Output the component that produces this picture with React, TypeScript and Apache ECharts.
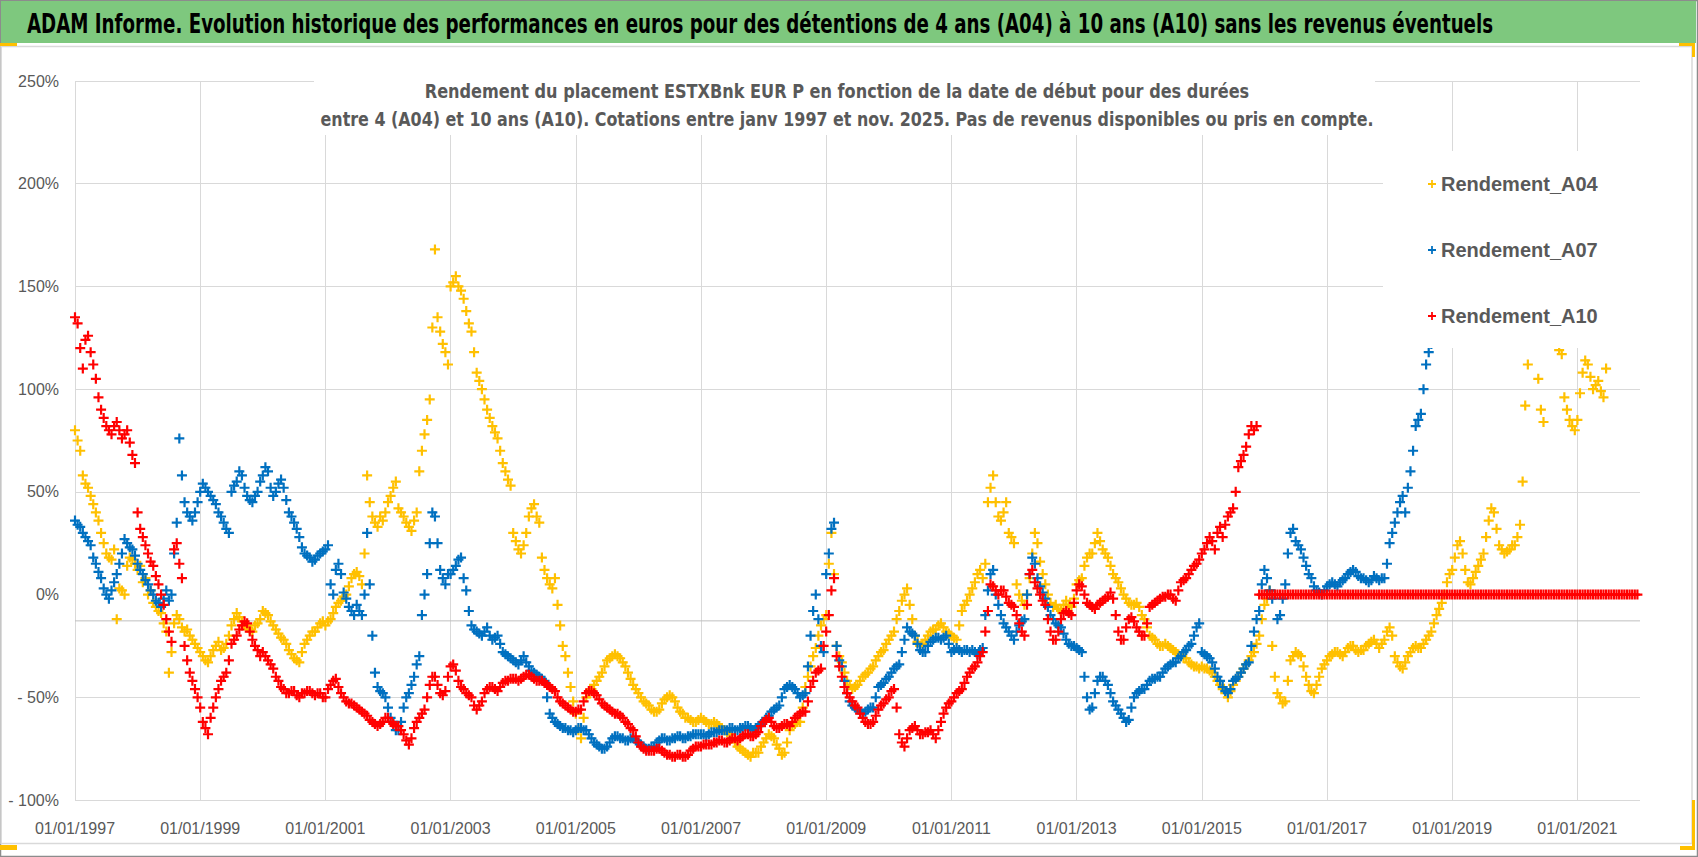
import React, { useEffect, useRef } from "react";
import * as echarts from "echarts";

// ---------- axis settings ----------
const START_YEAR = 1997;
const X_MAX = 25; // years after 01/01/1997 -> 01/01/2022
const X_INTERVAL = 2;
const Y_MIN = -100;
const Y_MAX = 250;
const Y_INTERVAL = 50;
const AXIS_CROSS = -12.8; // horizontal axis line position (%)

// ---------- texts ----------
const MAIN_TITLE =
  "ADAM Informe. Evolution historique des performances en euros pour des détentions de 4 ans (A04) à 10 ans (A10) sans les revenus éventuels";
const SUBTITLE_1 =
  "Rendement du placement ESTXBnk EUR P en fonction de la date de début pour des durées";
const SUBTITLE_2 =
  "entre 4 (A04) et 10 ans (A10). Cotations entre janv 1997 et nov. 2025. Pas de revenus disponibles ou pris en compte.";

const SERIES_NAMES = ["Rendement_A04", "Rendement_A07", "Rendement_A10"];
const SERIES_COLORS = ["#FFC000", "#0070C0", "#FF0000"];

// ---------- values (%) read at the start of each month, first = January 1997 ----------
const rendementA04 = [
  80, 70, 54, 48, 40, 30, 20, 17, -12, 2, 14, 17, // 1997
  12, 6, 0, -4, -8, -14, -38, -14, -12, -18, -20, -24, // 1998
  -28, -32, -30, -25, -27, -24, -15, -9, -13, -16, -18, -14, // 1999
  -8, -10, -15, -19, -22, -27, -31, -33, -24, -20, -18, -14, // 2000
  -15, -12, -6, -3, 0, 8, 11, 5, 58, 38, 33, 36, // 2001
  45, 52, 42, 38, 33, 36, 60, 78, 95, 168, 128, 118, // 2002
  150, 155, 148, 138, 128, 108, 100, 90, 82, 76, 64, 56, // 2003
  30, 22, 24, 38, 44, 35, 12, 5, 8, -15, -30, -45, // 2004
  -58, -70, -50, -46, -42, -38, -32, -30, -30, -33, -38, -44, // 2005
  -48, -52, -54, -57, -56, -51, -49, -52, -57, -60, -61, -62, // 2006
  -60, -62, -63, -63, -65, -67, -70, -74, -76, -78, -77, -77, // 2007
  -72, -68, -70, -75, -77, -66, -63, -62, -45, -35, -26, -15, // 2008
  -10, 30, -25, -33, -42, -46, -44, -40, -38, -35, -30, -27, // 2009
  -22, -18, -8, 0, -5, -20, -25, -22, -18, -17, -14, -18, // 2010
  -20, -22, -8, -3, 3, 10, 8, 45, 58, 38, 40, 30, // 2011
  25, 0, -5, 8, 30, 16, 5, -4, -5, -8, -3, -6, // 2012
  5, 8, 18, 20, 30, 22, 18, 10, 6, 0, -4, -5, // 2013
  -6, -12, -20, -22, -25, -24, -26, -28, -30, -31, -34, -35, // 2014
  -35, -36, -38, -42, -46, -50, -44, -40, -36, -32, -28, -20, // 2015
  -5, 2, -40, -50, -52, -32, -28, -30, -40, -47, -44, -36, // 2016
  -32, -29, -28, -30, -26, -25, -28, -27, -24, -22, -26, -22, // 2017
  -16, -30, -35, -33, -28, -25, -26, -22, -18, -10, -4, 6, // 2018
  12, 24, 20, 6, 8, 14, 20, 36, 40, 24, 20, 22, // 2019
  24, 34, 92, 125, 130, 90, 128, 135, 125, 117, 90, 82, // 2020
  85, 108, 112, 100, 104, 96, 125, 135, 130, 140, 125, // 2021 (to Nov)
];
// values read at mid-month
const rendementA04Mid = [
  75, 58, 52, 44, 36, 25, 18, 22, 3, 0, 18, 15, // 1997
  14, 8, 2, -6, -9, -18, -28, -10, -16, -17, -22, -26, // 1998
  -30, -33, -27, -23, -26, -20, -12, -11, -15, -17, -15, -12, // 1999
  -9, -13, -17, -21, -24, -29, -32, -28, -22, -18, -16, -13, // 2000
  -13, -9, -4, -1, 4, 10, 9, 20, 45, 35, 38, 40, // 2001
  48, 55, 40, 35, 31, 40, 70, 85, 130, 135, 122, 112, // 2002
  152, 150, 144, 132, 118, 104, 95, 86, 79, 70, 60, 53, // 2003
  26, 20, 30, 42, 38, 18, 8, 3, -5, -25, -38, -52, // 2004
  -66, -60, -48, -44, -40, -35, -31, -29, -31, -35, -41, -46, // 2005
  -50, -53, -56, -57, -53, -50, -50, -55, -58, -60, -62, -61, // 2006
  -61, -63, -62, -64, -66, -68, -72, -75, -77, -79, -77, -74, // 2007
  -70, -69, -73, -78, -72, -64, -62, -55, -40, -30, -20, -12, // 2008
  15, 10, -30, -38, -44, -45, -42, -39, -36, -32, -28, -24, // 2009
  -20, -12, -3, 3, -12, -23, -24, -20, -17, -15, -16, -19, // 2010
  -21, -15, -5, 0, 6, 12, 15, 52, 45, 36, 45, 28, // 2011
  5, -3, 0, 20, 25, 10, 0, -6, -7, -5, -5, -2, // 2012
  7, 14, 20, 25, 26, 20, 14, 8, 3, -2, -5, -4, // 2013
  -10, -16, -21, -24, -25, -25, -27, -29, -31, -33, -35, -36, // 2014
  -36, -37, -40, -44, -48, -47, -42, -38, -34, -30, -24, -12, // 2015
  -2, -25, -48, -53, -42, -30, -29, -35, -44, -48, -40, -34, // 2016
  -30, -28, -29, -28, -25, -27, -27, -25, -23, -24, -24, -18, // 2017
  -20, -33, -36, -30, -26, -26, -24, -20, -14, -7, 0, 10, // 2018
  18, 26, 12, 5, 11, 17, 28, 42, 32, 22, 21, 24, // 2019
  28, 55, 112, 128, 105, 84, 132, 128, 119, 96, 85, 80, // 2020
  98, 114, 106, 102, 99, 110, 130, 138, 135, 132, 128, // 2021 (to Nov)
];

const rendementA07 = [
  36, 33, 28, 24, 15, 8, 0, 2, 10, 20, 25, 22, // 1997
  15, 10, 5, 0, -4, -2, -3, 20, 76, 45, 38, 40, // 1998
  50, 52, 48, 44, 38, 32, 50, 55, 58, 48, 45, 50, // 1999
  58, 60, 48, 54, 52, 40, 35, 28, 20, 18, 17, 20, // 2000
  22, 5, 12, 10, -2, -8, -5, -10, 30, -20, -45, -48, // 2001
  -55, -62, -66, -55, -48, -40, -30, 0, 25, 38, 12, 5, // 2002
  10, 14, 18, 2, -15, -18, -20, -16, -22, -20, -28, -30, // 2003
  -32, -34, -30, -35, -38, -40, -42, -58, -62, -64, -65, -66, // 2004
  -66, -65, -66, -70, -73, -75, -74, -70, -69, -70, -71, -70, // 2005
  -72, -74, -75, -74, -71, -70, -71, -70, -69, -70, -69, -68, // 2006
  -68, -69, -67, -67, -66, -66, -65, -66, -65, -64, -66, -64, // 2007
  -62, -59, -56, -54, -46, -44, -46, -50, -48, -20, 0, -25, // 2008
  10, 32, -25, -35, -48, -54, -56, -58, -56, -55, -45, -43, // 2009
  -40, -36, -34, -22, -18, -20, -27, -28, -23, -21, -22, -20, // 2010
  -28, -26, -28, -27, -27, -29, -26, 2, 12, -5, -14, -18, // 2011
  -22, -15, -12, 10, 15, 4, -2, -10, -14, -16, -22, -25, // 2012
  -26, -28, -50, -55, -42, -40, -44, -52, -56, -60, -61, -50, // 2013
  -47, -46, -42, -41, -40, -36, -34, -33, -30, -27, -24, -16, // 2014
  -28, -30, -33, -40, -45, -48, -42, -40, -36, -33, -18, -8, // 2015
  12, 2, 0, -10, 5, 30, 26, 22, 14, 8, 2, 0, // 2016
  4, 6, 4, 7, 10, 12, 9, 8, 6, 9, 7, 8, // 2017
  25, 35, 45, 40, 60, 82, 88, 112, 122, 128, // 2018 (to Oct)
];
const rendementA07Mid = [
  34, 30, 26, 18, 11, 3, -2, 6, 15, 27, 23, 19, // 1997
  12, 7, 2, -3, -6, 2, 0, 35, 58, 40, 36, 45, // 1998
  54, 50, 46, 40, 35, 30, 53, 60, 52, 46, 48, 55, // 1999
  62, 52, 50, 56, 46, 38, 32, 23, 19, 16, 19, 21, // 2000
  24, 0, 15, 1, -6, -10, -8, 0, 5, -38, -47, -50, // 2001
  -60, -66, -62, -50, -44, -34, -10, 10, 40, 25, 8, 10, // 2002
  12, 17, 8, -8, -17, -19, -18, -20, -21, -24, -29, -31, // 2003
  -33, -32, -33, -37, -39, -41, -50, -60, -63, -65, -66, -67, // 2004
  -65, -66, -68, -72, -74, -75, -72, -69, -70, -71, -70, -71, // 2005
  -73, -75, -74, -72, -70, -71, -70, -69, -70, -69, -68, -68, // 2006
  -68, -68, -67, -66, -66, -65, -66, -65, -64, -65, -65, -63, // 2007
  -60, -57, -55, -50, -45, -45, -48, -49, -35, -8, -12, -28, // 2008
  20, 35, -32, -42, -52, -55, -57, -57, -55, -50, -44, -41, // 2009
  -38, -35, -28, -16, -19, -24, -28, -25, -22, -21, -21, -24, // 2010
  -27, -27, -27, -28, -28, -27, -10, 10, 0, -10, -16, -20, // 2011
  -18, -13, 0, 18, 8, 1, -6, -12, -15, -19, -24, -25, // 2012
  -27, -40, -56, -48, -40, -42, -48, -54, -58, -62, -55, -48, // 2013
  -46, -44, -41, -40, -38, -35, -33, -31, -28, -25, -20, -14, // 2014
  -29, -31, -36, -42, -47, -46, -41, -38, -34, -25, -12, 5, // 2015
  8, -2, -12, -2, 20, 32, 24, 18, 10, 4, 1, 2, // 2016
  5, 5, 6, 8, 11, 11, 8, 7, 7, 8, 8, 15, // 2017
  30, 40, 48, 52, 70, 85, 100, 118, 125, 130, // 2018 (to Oct)
];

const rendementA10 = [
  135, 120, 124, 118, 105, 90, 82, 78, 84, 76, 80, 68, // 1997
  40, 28, 20, 14, 5, -5, -18, 22, 15, -25, -38, -46, // 1998
  -55, -65, -60, -50, -42, -38, -24, -20, -15, -14, -22, -27, // 1999
  -28, -32, -36, -42, -46, -48, -47, -50, -48, -47, -49, -48, // 2000
  -50, -44, -41, -48, -52, -53, -55, -57, -59, -62, -64, -62, // 2001
  -60, -63, -64, -68, -73, -65, -60, -56, -44, -40, -48, -47, // 2002
  -35, -37, -45, -48, -50, -56, -52, -46, -45, -47, -43, -42, // 2003
  -41, -42, -40, -39, -41, -42, -43, -45, -47, -52, -54, -56, // 2004
  -57, -56, -48, -47, -49, -53, -55, -57, -58, -60, -63, -66, // 2005
  -72, -75, -76, -76, -75, -77, -78, -79, -78, -79, -76, -74, // 2006
  -74, -73, -73, -72, -71, -72, -70, -71, -69, -68, -69, -67, // 2007
  -62, -60, -64, -65, -63, -64, -60, -58, -57, -45, -38, -36, // 2008
  -18, 2, -30, -40, -48, -52, -55, -60, -63, -62, -56, -53, // 2009
  -50, -46, -68, -74, -66, -64, -68, -67, -66, -70, -62, -55, // 2010
  -52, -48, -46, -40, -36, -33, -28, -8, 4, 0, 2, -4, // 2011
  -6, -14, -20, 10, 6, 0, -5, -18, -22, -12, -8, -10, // 2012
  2, 4, -4, -6, -5, -3, -1, -2, -18, -22, -12, -13, // 2013
  -18, -20, -6, -4, -2, -1, 0, -3, 6, 8, 12, 15, // 2014
  20, 25, 26, 30, 28, 38, 42, 62, 68, 78, 80, 0, // 2015
  0, 0, 0, 0, 0, 0, 0, 0, 0, 0, 0, 0, // 2016
  0, 0, 0, 0, 0, 0, 0, 0, 0, 0, 0, 0, // 2017
  0, 0, 0, 0, 0, 0, 0, 0, 0, 0, 0, 0, // 2018
  0, 0, 0, 0, 0, 0, 0, 0, 0, 0, 0, 0, // 2019
  0, 0, 0, 0, 0, 0, 0, 0, 0, 0, 0, 0, // 2020
  0, 0, 0, 0, 0, 0, 0, 0, 0, 0, 0, 0, // 2021
];
const rendementA10Mid = [
  132, 110, 126, 112, 96, 86, 80, 82, 80, 78, 74, 64, // 1997
  32, 24, 16, 9, 0, -12, -23, 25, 8, -32, -42, -50, // 1998
  -62, -68, -55, -46, -40, -32, -22, -17, -13, -18, -25, -30, // 1999
  -30, -34, -40, -45, -48, -47, -49, -48, -47, -48, -48, -50, // 2000
  -46, -42, -45, -50, -53, -54, -56, -58, -61, -63, -63, -60, // 2001
  -62, -64, -66, -71, -70, -62, -58, -50, -40, -44, -49, -40, // 2002
  -34, -42, -46, -49, -54, -54, -48, -45, -46, -45, -42, -41, // 2003
  -41, -41, -39, -40, -42, -42, -44, -46, -50, -53, -55, -57, // 2004
  -56, -52, -47, -48, -51, -54, -56, -58, -59, -62, -65, -69, // 2005
  -74, -76, -76, -75, -76, -78, -79, -78, -79, -78, -75, -74, // 2006
  -73, -73, -72, -71, -72, -71, -70, -70, -68, -69, -68, -64, // 2007
  -61, -62, -65, -64, -63, -62, -59, -57, -52, -42, -37, -25, // 2008
  -10, 8, -35, -45, -50, -54, -58, -62, -63, -59, -54, -51, // 2009
  -47, -55, -72, -70, -65, -66, -68, -67, -68, -66, -58, -53, // 2010
  -50, -47, -43, -38, -35, -30, -18, 5, 2, 2, -1, -5, // 2011
  -10, -18, -5, 12, 3, -3, -12, -22, -18, -9, -9, -4, // 2012
  5, 0, -5, -7, -4, -2, 1, -10, -22, -16, -11, -16, // 2013
  -20, -14, -5, -3, -1, 0, -2, 2, 7, 10, 14, 17, // 2014
  22, 28, 22, 33, 34, 40, 50, 65, 72, 82, 82, 0, // 2015
  0, 0, 0, 0, 0, 0, 0, 0, 0, 0, 0, 0, // 2016
  0, 0, 0, 0, 0, 0, 0, 0, 0, 0, 0, 0, // 2017
  0, 0, 0, 0, 0, 0, 0, 0, 0, 0, 0, 0, // 2018
  0, 0, 0, 0, 0, 0, 0, 0, 0, 0, 0, 0, // 2019
  0, 0, 0, 0, 0, 0, 0, 0, 0, 0, 0, 0, // 2020
  0, 0, 0, 0, 0, 0, 0, 0, 0, 0, 0, 0, // 2021
];

const SERIES_VALUES = [rendementA04, rendementA07, rendementA10];
const SERIES_MID_VALUES = [rendementA04Mid, rendementA07Mid, rendementA10Mid];

// ---------- styling ----------
const NARROW = "'Liberation Sans Narrow', 'DejaVu Sans Condensed', 'Liberation Sans', sans-serif";
const LABEL_FONT = "'Liberation Sans', Arial, sans-serif";
const PLUS = "path://M3.9,0H6.1V3.9H10V6.1H6.1V10H3.9V6.1H0V3.9H3.9Z";
const GRID = "#D9D9D9";
const Y_GRID_COLORS = [GRID, GRID, "rgba(0,0,0,0)", GRID, GRID, GRID, GRID, GRID];

function fitScale(text: string, font: string, target: number): number {
  const ctx = document.createElement("canvas").getContext("2d");
  if (!ctx) return 1;
  ctx.font = font;
  const w = ctx.measureText(text).width;
  return w > 0 ? target / w : 1;
}

const toPoints = (values: number[], mids: number[]) => {
  const pts: number[][] = [];
  values.forEach((v, i) => {
    pts.push([i / 12, v]);
    if (mids[i] !== undefined) pts.push([i / 12 + 1 / 24, mids[i]]);
  });
  return pts;
};

export default function App() {
  const ref = useRef<HTMLDivElement>(null);

  useEffect(() => {
    document.body.style.margin = "0";
    if (!ref.current) return;
    const chart = echarts.init(ref.current, undefined, { renderer: "svg" });

    const titleFont = `bold 27px ${NARROW}`;
    const subFont = `bold 19px ${NARROW}`;
    const sTitle = fitScale(MAIN_TITLE, titleFont, 1468);
    const sSub1 = fitScale(SUBTITLE_1, subFont, 825);
    const sSub2 = fitScale(SUBTITLE_2, subFont, 1054);

    const scatterSeries = SERIES_NAMES.map((name, k) => ({
      type: "scatter",
      name,
      data: toPoints(SERIES_VALUES[k], SERIES_MID_VALUES[k]),
      symbol: PLUS,
      symbolSize: 10,
      itemStyle: { color: SERIES_COLORS[k], opacity: 1 },
      z: 2,
      silent: true,
    }));

    const option: any = {
      animation: false,
      backgroundColor: "#ffffff",
      grid: { left: 75, top: 81, width: 1565, height: 719, containLabel: false, outerBoundsMode: "none" },
      xAxis: {
        type: "value",
        min: 0,
        max: X_MAX,
        interval: X_INTERVAL,
        axisLine: { show: false },
        axisTick: { show: false },
        axisLabel: {
          formatter: (v: number) => `01/01/${START_YEAR + v}`,
          color: "#595959",
          fontSize: 16,
          fontFamily: LABEL_FONT,
          margin: 20,
          showMaxLabel: false,
        },
        splitLine: { show: true, showMaxLine: false, lineStyle: { color: GRID, width: 1 } },
      },
      yAxis: {
        type: "value",
        min: Y_MIN,
        max: Y_MAX,
        interval: Y_INTERVAL,
        axisLine: { show: false },
        axisTick: { show: false },
        axisLabel: {
          formatter: (v: number) => (v < 0 ? `- ${Math.abs(v)}%` : `${v}%`),
          color: "#595959",
          fontSize: 16,
          fontFamily: LABEL_FONT,
          margin: 16,
        },
        splitLine: { show: true, lineStyle: { color: Y_GRID_COLORS, width: 1 } },
      },
      legend: {
        show: true,
        orient: "vertical",
        left: 1428,
        top: 172,
        z: 20,
        data: SERIES_NAMES,
        icon: PLUS,
        itemWidth: 8,
        itemHeight: 8,
        itemGap: 42,
        padding: 0,
        selectedMode: false,
        textStyle: { color: "#595959", fontSize: 20, fontWeight: "bold", fontFamily: LABEL_FONT, lineHeight: 24 },
      },
      series: [
        {
          type: "line",
          name: "axe",
          data: [
            [0, AXIS_CROSS],
            [X_MAX, AXIS_CROSS],
          ],
          symbol: "none",
          lineStyle: { color: "#BFBFBF", width: 1 },
          z: 1,
          silent: true,
        },
        ...scatterSeries,
      ],
      graphic: [
        // outer frame
        { type: "rect", z: 0, silent: true, shape: { x: 0.5, y: 0.5, width: 1697, height: 856 }, style: { fill: "none", stroke: "#8C8C8C", lineWidth: 1.5 } },
        // chart area border
        { type: "rect", z: 0, silent: true, shape: { x: 1, y: 46.5, width: 1691, height: 797 }, style: { fill: "none", stroke: "#D9D9D9", lineWidth: 1.5 } },
        // green title bar
        { type: "rect", z: 10, silent: true, shape: { x: 1, y: 1, width: 1695, height: 42 }, style: { fill: "#7EC87E" } },
        {
          type: "text", z: 11, silent: true, x: 27, y: 24, scaleX: sTitle,
          style: { text: MAIN_TITLE, font: titleFont, fill: "#000000", textAlign: "left", textVerticalAlign: "middle" },
        },
        // selection handles
        { type: "rect", z: 10, silent: true, shape: { x: 0, y: 43, width: 17, height: 3 }, style: { fill: "#FFC000" } },
        { type: "rect", z: 10, silent: true, shape: { x: 1679, y: 43, width: 16, height: 3 }, style: { fill: "#FFC000" } },
        { type: "rect", z: 10, silent: true, shape: { x: 1692, y: 43, width: 3, height: 14 }, style: { fill: "#FFC000" } },
        { type: "rect", z: 10, silent: true, shape: { x: 0, y: 845, width: 17, height: 5 }, style: { fill: "#FFC000" } },
        { type: "rect", z: 10, silent: true, shape: { x: 1692, y: 800, width: 3, height: 50 }, style: { fill: "#FFC000" } },
        { type: "rect", z: 10, silent: true, shape: { x: 1680, y: 846, width: 15, height: 4 }, style: { fill: "#FFC000" } },
        // chart title box
        { type: "rect", z: 10, silent: true, shape: { x: 314, y: 68, width: 1061, height: 67 }, style: { fill: "#ffffff" } },
        {
          type: "text", z: 11, silent: true, x: 837, y: 91, scaleX: sSub1,
          style: { text: SUBTITLE_1, font: subFont, fill: "#595959", textAlign: "center", textVerticalAlign: "middle" },
        },
        {
          type: "text", z: 11, silent: true, x: 847, y: 119, scaleX: sSub2,
          style: { text: SUBTITLE_2, font: subFont, fill: "#595959", textAlign: "center", textVerticalAlign: "middle" },
        },
        // legend box
        { type: "rect", z: 10, silent: true, shape: { x: 1383, y: 151, width: 258, height: 197 }, style: { fill: "#ffffff" } },
      ],
    };

    chart.setOption(option);
    return () => chart.dispose();
  }, []);

  return <div ref={ref} style={{ width: 1698, height: 857 }} />;
}
